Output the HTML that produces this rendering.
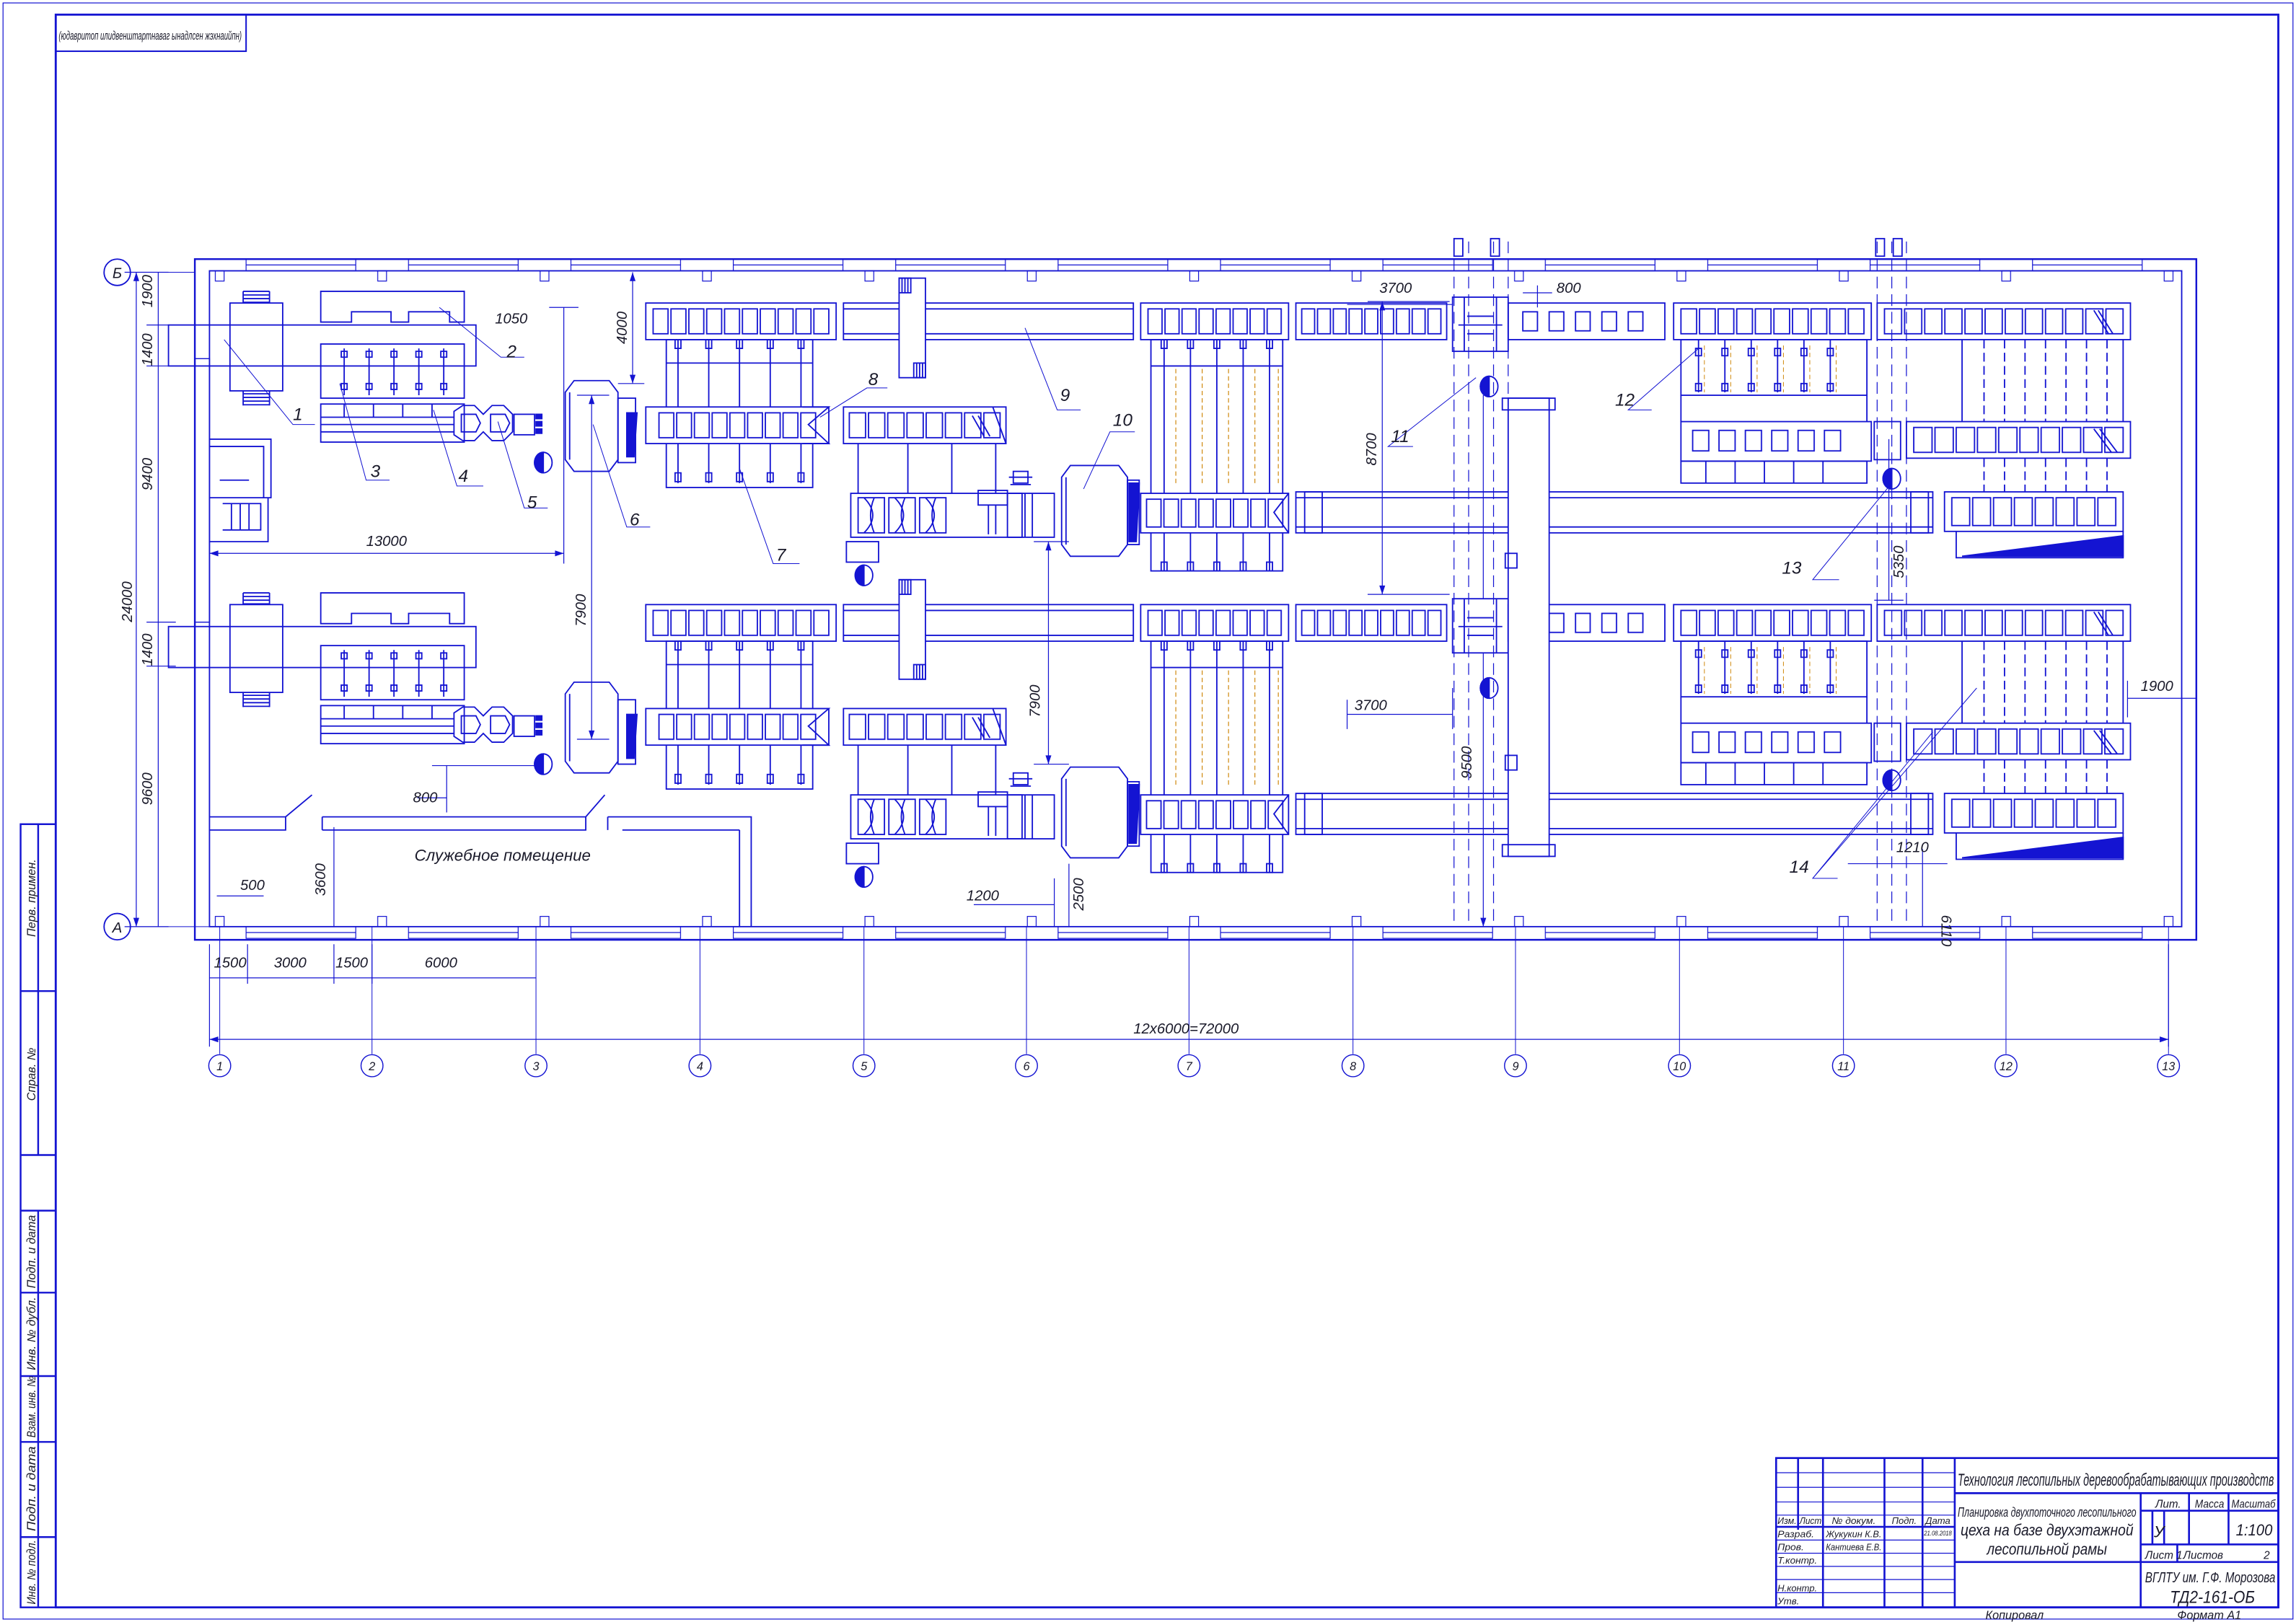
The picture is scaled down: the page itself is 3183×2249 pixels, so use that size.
<!DOCTYPE html>
<html><head><meta charset="utf-8">
<style>
html,body{margin:0;padding:0;background:#fff;}
svg{display:block;}
text{font-family:"Liberation Sans","DejaVu Sans",sans-serif;font-style:italic;fill:#1a1a2a;}
</style></head>
<body>
<svg xmlns="http://www.w3.org/2000/svg" xmlns:xlink="http://www.w3.org/1999/xlink" width="3183" height="2249" viewBox="0 0 1568 1108">
<defs>
<pattern id="pw" patternUnits="userSpaceOnUse" x="150" y="0" width="110.92" height="1108"><g fill="none" stroke="#1414d2" stroke-width="0.6"><rect x="18" y="177" width="74.9" height="8"/><line x1="18" y1="181" x2="92.9" y2="181"/><rect x="18" y="633" width="74.9" height="8"/><line x1="18" y1="637" x2="92.9" y2="637"/><rect x="-3" y="185" width="6" height="7"/><rect x="107.92" y="185" width="6" height="7"/><rect x="-3" y="626" width="6" height="7"/><rect x="107.92" y="626" width="6" height="7"/></g></pattern>
<pattern id="p1" patternUnits="userSpaceOnUse" x="445" y="207" width="12.2" height="25"><rect x="1" y="4" width="10.2" height="17" fill="none" stroke="#1414d2" stroke-width="0.9"/></pattern>
<pattern id="p2" patternUnits="userSpaceOnUse" x="449" y="278" width="12.11" height="25"><rect x="1" y="4" width="10.1" height="17" fill="none" stroke="#1414d2" stroke-width="0.9"/></pattern>
<pattern id="p3" patternUnits="userSpaceOnUse" x="579" y="278" width="13.125" height="25"><rect x="1" y="4" width="11.1" height="17" fill="none" stroke="#1414d2" stroke-width="0.9"/></pattern>
<pattern id="p4" patternUnits="userSpaceOnUse" x="783" y="207" width="11.625" height="25"><rect x="1" y="4" width="9.6" height="17" fill="none" stroke="#1414d2" stroke-width="0.9"/></pattern>
<pattern id="p5" patternUnits="userSpaceOnUse" x="782" y="337" width="11.875" height="27"><rect x="1" y="4" width="9.9" height="19" fill="none" stroke="#1414d2" stroke-width="0.9"/></pattern>
<pattern id="p6" patternUnits="userSpaceOnUse" x="888" y="207" width="10.78" height="25"><rect x="1" y="4" width="8.8" height="17" fill="none" stroke="#1414d2" stroke-width="0.9"/></pattern>
<pattern id="p7" patternUnits="userSpaceOnUse" x="1147" y="207" width="12.7" height="25"><rect x="1" y="4" width="10.7" height="17" fill="none" stroke="#1414d2" stroke-width="0.9"/></pattern>
<pattern id="p8" patternUnits="userSpaceOnUse" x="1286" y="207" width="13.75" height="25"><rect x="1" y="4" width="11.7" height="17" fill="none" stroke="#1414d2" stroke-width="0.9"/></pattern>
<pattern id="p9" patternUnits="userSpaceOnUse" x="1306" y="288" width="14.5" height="25"><rect x="1" y="4" width="12.5" height="17" fill="none" stroke="#1414d2" stroke-width="0.9"/></pattern>
<pattern id="p10" patternUnits="userSpaceOnUse" x="1332" y="336" width="14.25" height="27"><rect x="1" y="4" width="12.2" height="19" fill="none" stroke="#1414d2" stroke-width="0.9"/></pattern>
<pattern id="p11" patternUnits="userSpaceOnUse" x="1039" y="207" width="18" height="25"><rect x="1" y="6" width="10" height="13" fill="none" stroke="#1414d2" stroke-width="0.9"/></pattern>
<pattern id="p12" patternUnits="userSpaceOnUse" x="1155" y="288" width="18" height="27"><rect x="1" y="6" width="11" height="14" fill="none" stroke="#1414d2" stroke-width="0.9"/></pattern>

<g id="streamg" fill="none" stroke="#1414d2" stroke-width="0.9">
<rect x="115" y="222" width="210" height="28"/>
<rect x="157" y="207" width="36" height="60"/>
<path d="M166,199H184M166,201.5H184M166,204H184M166,206.5H184M166,269H184M166,271.5H184M166,274H184M166,276.5H184M166,199V207M184,199V207M166,267V277M184,267V277"/>
<path d="M219,199 H317 V220 H307 V213 H279 V220 H267 V213 H240 V220 H219 Z"/>
<rect x="219" y="235" width="98" height="37"/>
<path d="M235,238V270M252,238V270M269,238V270M286,238V270M303,238V270"/>
<path d="M233,240h4v4h-4zM250,240h4v4h-4zM267,240h4v4h-4zM284,240h4v4h-4zM301,240h4v4h-4zM233,262h4v4h-4zM250,262h4v4h-4zM267,262h4v4h-4zM284,262h4v4h-4zM301,262h4v4h-4z"/>
<rect x="219" y="276" width="98" height="26"/>
<path d="M219,285H310M219,290H310M219,295H310M235,276V285M255,276V285M275,276V285M295,276V285"/>
<path d="M310,281 L316,277 H324 L330,283 L336,277 H344 L350,283 V295 L344,301 H336 L330,295 L324,301 H316 L310,297 Z"/>
<path d="M315,283 H325 L328,289 L325,295 H315 Z M335,283 H345 L348,289 L345,295 H335 Z"/>
<rect x="351" y="283" width="14" height="14"/>
<rect x="366" y="283" width="4" height="3" fill="#1414d2"/><rect x="366" y="288" width="4" height="3" fill="#1414d2"/><rect x="366" y="293" width="4" height="3" fill="#1414d2"/>
<path d="M371,309 a6,7 0 0,0 0,14 Z" fill="#1414d2"/><ellipse cx="371" cy="316" rx="6" ry="7"/>
<path d="M392,260 H416 L422,268 V314 L416,322 H392 L386,314 V268 Z"/>
<path d="M389,268 V314"/>
<rect x="422" y="272" width="12" height="44"/>
<path d="M428,282 L435,282 L433,312 L428,312 Z" fill="#1414d2"/>
<rect x="441" y="207" width="130" height="25"/><rect x="445" y="207" width="122" height="25" fill="url(#p1)" stroke="none"/>
<rect x="455" y="232" width="100" height="101"/>
<path d="M455,248H555M463,232V330M484,232V330M505,232V330M526,232V330M547,232V330"/>
<path d="M461,232h4v6h-4zM482,232h4v6h-4zM503,232h4v6h-4zM524,232h4v6h-4zM545,232h4v6h-4zM461,323h4v6h-4zM482,323h4v6h-4zM503,323h4v6h-4zM524,323h4v6h-4zM545,323h4v6h-4z"/>
<rect x="441" y="278" width="125" height="25" fill="#fff"/><rect x="449" y="278" width="109" height="25" fill="url(#p2)" stroke="none"/>
<path d="M548,278 L566,278 L552,290 L566,303 L548,303"/>
<rect x="576" y="207" width="198" height="25"/>
<path d="M576,211H774M576,228H774"/>
<rect x="614" y="190" width="18" height="68" fill="#fff"/>
<rect x="614" y="190" width="8" height="10"/><path d="M616,190V200M618,190V200M620,190V200"/>
<rect x="624" y="248" width="8" height="10"/><path d="M626,248V258M628,248V258M630,248V258"/>
<rect x="576" y="278" width="111" height="25"/><rect x="579" y="278" width="105" height="25" fill="url(#p3)" stroke="none"/>
<path d="M664,284L672,298M668,284L676,298M678,278L687,303"/>
<path d="M586,303V337M620,303V337M650,303V337M680,303V337"/>
<rect x="581" y="337" width="139" height="30"/>
<rect x="586" y="340" width="18" height="24"/><rect x="607" y="340" width="18" height="24"/><rect x="628" y="340" width="18" height="24"/>
<path d="M590,340 q12,12 0,24 M597,340 q-5,12 0,24 M611,340 q12,12 0,24 M618,340 q-5,12 0,24 M632,340 q12,12 0,24 M639,340 q-5,12 0,24"/>
<rect x="668" y="335" width="20" height="10"/>
<path d="M675,345V365M680,345V365M700,337V367M705,337V367"/>
<rect x="688" y="337" width="10" height="30"/>
<rect x="692" y="322" width="10" height="8"/><path d="M689,326H705M690,331H704"/>
<rect x="578" y="370" width="22" height="14"/>
<path d="M590,386 a6,7 0 0,0 0,14 Z" fill="#1414d2"/><ellipse cx="590" cy="393" rx="6" ry="7"/>
<path d="M731,318 H764 L770,326 V372 L764,380 H731 L725,372 V326 Z"/>
<path d="M728,326 V372"/>
<rect x="770" y="328" width="8" height="44"/>
<path d="M771,330 L778,330 L776,370 L771,370 Z" fill="#1414d2"/>
<rect x="779" y="207" width="101" height="25"/><rect x="783" y="207" width="93" height="25" fill="url(#p4)" stroke="none"/>
<rect x="786" y="232" width="90" height="158"/>
<path d="M795,232V390M813,232V390M831,232V390M849,232V390M867,232V390M786,250H876"/>
<path d="M793,232h4v6h-4zM811,232h4v6h-4zM829,232h4v6h-4zM847,232h4v6h-4zM865,232h4v6h-4zM793,384h4v6h-4zM811,384h4v6h-4zM829,384h4v6h-4zM847,384h4v6h-4zM865,384h4v6h-4z"/>
<path d="M803,252V332M821,252V332M839,252V332M857,252V332M873,252V332" stroke="#d08a10" stroke-dasharray="3,2" stroke-width="0.6"/>
<rect x="779" y="337" width="101" height="27" fill="#fff"/><rect x="782" y="337" width="95" height="27" fill="url(#p5)" stroke="none"/>
<path d="M880,337 L870,350 L880,364"/>
<rect x="885" y="207" width="103" height="25"/><rect x="888" y="207" width="97" height="25" fill="url(#p6)" stroke="none"/>
<rect x="992" y="203" width="38" height="37" fill="#fff"/>
<path d="M1000,203V240M1022,203V240M996,222H1026M1002,216H1020M1002,228H1020"/>
<rect x="1030" y="207" width="107" height="25"/><rect x="1039" y="207" width="90" height="25" fill="url(#p11)" stroke="none"/>
<path d="M1017,257 a6,7 0 0,0 0,14 Z" fill="#1414d2"/><ellipse cx="1017" cy="264" rx="6" ry="7"/>
<rect x="885" y="336" width="435" height="28"/>
<path d="M885,340H1320M885,360H1320"/>
<rect x="891" y="336" width="12" height="28"/><rect x="1305" y="336" width="12" height="28"/>
<rect x="1143" y="207" width="135" height="25"/><rect x="1147" y="207" width="127" height="25" fill="url(#p7)" stroke="none"/>
<rect x="1148" y="232" width="127" height="38"/>
<path d="M1160,232V268M1178,232V268M1196,232V268M1214,232V268M1232,232V268M1250,232V268M1148,270V288M1275,270V288"/>
<path d="M1158,238h4v5h-4zM1176,238h4v5h-4zM1194,238h4v5h-4zM1212,238h4v5h-4zM1230,238h4v5h-4zM1248,238h4v5h-4zM1158,262h4v5h-4zM1176,262h4v5h-4zM1194,262h4v5h-4zM1212,262h4v5h-4zM1230,262h4v5h-4zM1248,262h4v5h-4z"/>
<path d="M1164,236V268M1182,236V268M1200,236V268M1218,236V268M1236,236V268M1254,236V268" stroke="#d08a10" stroke-dasharray="3,2" stroke-width="0.5"/>
<rect x="1148" y="288" width="130" height="27"/><rect x="1155" y="288" width="108" height="27" fill="url(#p12)" stroke="none"/>
<rect x="1148" y="315" width="127" height="15"/>
<path d="M1165,315V330M1185,315V330M1205,315V330M1225,315V330M1245,315V330"/>
<rect x="1282" y="207" width="173" height="25"/><rect x="1286" y="207" width="165" height="25" fill="url(#p8)" stroke="none"/>
<path d="M1430,212L1440,228M1433,212L1443,228"/>
<path d="M1355,232V336M1369,232V336M1383,232V336M1397,232V336M1411,232V336M1425,232V336M1439,232V336" stroke-dasharray="6,3"/>
<path d="M1340,232V288M1450,232V288"/>
<rect x="1302" y="288" width="153" height="25" fill="#fff"/><rect x="1306" y="288" width="145" height="25" fill="url(#p9)" stroke="none"/>
<path d="M1430,293L1442,309M1434,293L1446,309"/>
<rect x="1328" y="336" width="122" height="27" fill="#fff"/><rect x="1332" y="336" width="114" height="27" fill="url(#p10)" stroke="none"/>
<path d="M1336,363 V381 H1450 V363"/>
<path d="M1340,380 L1450,366 L1450,380 Z" fill="#1414d2"/>
<rect x="1280" y="288" width="18" height="26"/>
<path d="M1292,320 a6,7 0 0,0 0,14 Z" fill="#1414d2"/><ellipse cx="1292" cy="327" rx="6" ry="7"/>
</g>
</defs>

<g fill="none" stroke="#1414d2" stroke-width="0.9">
<rect x="2" y="2" width="1564" height="1104" stroke-width="0.6"/>
<rect x="38" y="10" width="1518" height="1088" stroke-width="1.4"/>
<rect x="38" y="10" width="130" height="25" stroke-width="1"/>
<rect x="14" y="563" width="24" height="535" stroke-width="1.2"/>
<path d="M14,677H38M14,789H38M14,827H38M14,883H38M14,940H38M14,985H38M14,1050H38M26,563V789M26,827V1098" stroke-width="1.2"/>
<rect x="133" y="177" width="1367" height="465" stroke-width="1.2"/>
<rect x="143" y="185" width="1347" height="448"/>
<rect x="140" y="170" width="1350" height="480" fill="url(#pw)" stroke="none"/>
<path d="M150,633V720M254,633V720M366,633V720M478,633V720M590,633V720M701,633V720M812,633V720M924,633V720M1035,633V720M1147,633V720M1259,633V720M1370,633V720M1481,633V720" stroke-width="0.5"/>
<g stroke-width="0.7">
<circle cx="150" cy="728" r="7.5"/><circle cx="254" cy="728" r="7.5"/><circle cx="366" cy="728" r="7.5"/><circle cx="478" cy="728" r="7.5"/><circle cx="590" cy="728" r="7.5"/><circle cx="701" cy="728" r="7.5"/><circle cx="812" cy="728" r="7.5"/><circle cx="924" cy="728" r="7.5"/><circle cx="1035" cy="728" r="7.5"/><circle cx="1147" cy="728" r="7.5"/><circle cx="1259" cy="728" r="7.5"/><circle cx="1370" cy="728" r="7.5"/><circle cx="1481" cy="728" r="7.5"/>
</g>
<circle cx="80" cy="186" r="9"/><circle cx="80" cy="633" r="9"/>
<path d="M89,186H133M89,633H150" stroke-width="0.5"/>
<g stroke-width="0.6">
<path d="M143,710H1481M143,668H366M143,645V715M1481,645V715M169,645V672M228,645V672M254,645V672"/>
<path d="M93,186V633M108,186V633M85,186H115M100,222H120M100,250H120M100,425H120M100,455H120M85,633H115"/>
<path d="M143,378H385M385,210V385M375,210H395"/>
<path d="M404,270V505M394,270H416M394,505H416"/>
<path d="M432,186V262M422,262H440"/>
<path d="M716,370V522M706,370H730M706,522H730"/>
<path d="M944,206V406M934,206H990M934,406H990"/>
<path d="M1013,270V633"/>
<path d="M920,488H992M920,478V498M992,470V498"/>
<path d="M920,208H992M1040,200H1060M1050,195V210"/>
<path d="M1290,300V410M1280,410H1300"/>
<path d="M1313,580V633M1262,590H1330"/>
<path d="M1453,477H1500M1453,465V490"/>
<path d="M228,565V633M305,523V555M295,523H370M285,545H305"/>
<path d="M730,590V633M665,618H720M720,600V633"/>
<path d="M148,612H180"/>
</g>
<g fill="#1414d2" stroke="none">
<path d="M143,378l6,-2v4zM385,378l-6,-2v4zM404,270l-2,6h4zM404,505l-2,-6h4zM716,370l-2,6h4zM716,522l-2,-6h4zM93,186l-2,6h4zM93,633l-2,-6h4zM143,710l6,-2v4zM1481,710l-6,-2v4zM944,206l-2,6h4zM944,406l-2,-6h4zM1013,633l-2,-6h4zM432,262l-2,-6h4zM432,186l-2,6h4z"/>
</g>
<rect x="133" y="245" width="10" height="180" stroke-width="0.7"/>
<path d="M143,300 H185 V340 H180 V305 H143 M150,328 H170 M143,340 H183 V370 H143 M152,344 H178 V362 H152 M158,344V362M164,344V362M170,344V362"/>
<path d="M143,558 H195 L213,543 M220,558 H400 L413,543 M415,558 H513 V633 M505,567 V633 M143,567 H195 V558 M220,567 H400 V558 M220,558 V567 M415,558 V567 M425,567 H505"/>
<use xlink:href="#streamg" href="#streamg"/>
<use xlink:href="#streamg" href="#streamg" y="206"/>
<rect x="1030" y="272" width="28" height="313" fill="#fff"/>
<rect x="1026" y="272" width="36" height="8"/><rect x="1026" y="577" width="36" height="8"/>
<rect x="1028" y="378" width="8" height="10"/><rect x="1028" y="516" width="8" height="10"/>
<path d="M993,165V630M1003,165V630M1020,165V630M1030,165V272M1282,165V630M1292,165V630M1302,165V630" stroke-dasharray="8,4" stroke-width="0.6"/>
<rect x="993" y="163" width="6" height="12"/><rect x="1018" y="163" width="6" height="12"/><rect x="1281" y="163" width="6" height="12"/><rect x="1293" y="163" width="6" height="12"/>
<path stroke-width="0.5" d="M153,232L200,290H215M300,210L342,244H358M232,262L250,328H266M296,280L312,332H330M340,288L358,347H374M405,290L428,360H444M505,320L528,385H546M560,285L592,265H606M700,224L722,280H738M740,334L758,295H775M1008,258L948,305H965M1160,238L1112,280H1128M1292,330L1238,396H1256M1350,470L1238,600H1255M1320,500L1238,600"/>
<g stroke-width="1.3">
<rect x="1213" y="996" width="343" height="102"/>
<path d="M1335,996V1098M1335,1020H1556M1335,1067H1556M1462,1020V1098M1462,1032H1556M1462,1055H1556M1495,1020V1055M1522,1020V1055M1487,1055V1067M1228,996V1045M1245,996V1098M1287,996V1098M1313,996V1098M1213,1043H1335M1470,1032V1055M1478,1032V1055"/>
</g>
<path stroke-width="0.6" d="M1213,1006H1335M1213,1016H1335M1213,1026H1335M1213,1035H1335M1213,1052H1335M1213,1061H1335M1213,1070H1335M1213,1079H1335M1213,1088H1335"/>
</g>

<g font-size="12">
<text x="200" y="287">1</text><text x="346" y="244">2</text><text x="253" y="326">3</text>
<text x="313" y="329">4</text><text x="360" y="347">5</text><text x="430" y="359">6</text>
<text x="530" y="383">7</text><text x="593" y="263">8</text><text x="724" y="274">9</text>
<text x="760" y="291">10</text><text x="950" y="302">11</text><text x="1103" y="277">12</text>
<text x="1217" y="392">13</text><text x="1222" y="596">14</text>
</g>
<text x="40" y="27" font-size="8" textLength="125" lengthAdjust="spacingAndGlyphs">(юдавритоп илидвенштартнаваг ынадлсен жэхнаийпн)</text>
<g font-size="10">
<text x="338" y="221">1050</text><text x="250" y="373">13000</text>
<text x="282" y="548">800</text><text x="164" y="608">500</text>
<text x="660" y="615">1200</text><text x="942" y="200">3700</text>
<text x="1063" y="200">800</text><text x="925" y="485">3700</text>
<text x="1462" y="472">1900</text><text x="1295" y="582">1210</text>
<text x="146" y="661">1500</text><text x="187" y="661">3000</text><text x="229" y="661">1500</text><text x="290" y="661">6000</text>
<text x="774" y="706">12x6000=72000</text>
<text x="283" y="588" font-size="11">Служебное помещение</text>
<text transform="translate(104,210) rotate(-90)">1900</text>
<text transform="translate(104,250) rotate(-90)">1400</text>
<text transform="translate(104,335) rotate(-90)">9400</text>
<text transform="translate(90,425) rotate(-90)">24000</text>
<text transform="translate(104,455) rotate(-90)">1400</text>
<text transform="translate(104,550) rotate(-90)">9600</text>
<text transform="translate(428,235) rotate(-90)">4000</text>
<text transform="translate(400,428) rotate(-90)">7900</text>
<text transform="translate(710,490) rotate(-90)">7900</text>
<text transform="translate(940,318) rotate(-90)">8700</text>
<text transform="translate(1005,532) rotate(-90)">9500</text>
<text transform="translate(1300,395) rotate(-90)">5350</text>
<text transform="translate(1326,625) rotate(90)">6110</text>
<text transform="translate(222,612) rotate(-90)">3600</text>
<text transform="translate(740,622) rotate(-90)">2500</text>
</g>
<g font-size="8" font-style="normal" text-anchor="middle">
<text x="150" y="731">1</text><text x="254" y="731">2</text><text x="366" y="731">3</text><text x="478" y="731">4</text><text x="590" y="731">5</text><text x="701" y="731">6</text><text x="812" y="731">7</text><text x="924" y="731">8</text><text x="1035" y="731">9</text><text x="1147" y="731">10</text><text x="1259" y="731">11</text><text x="1370" y="731">12</text><text x="1481" y="731">13</text>
<text x="80" y="190" font-size="10">Б</text><text x="80" y="637" font-size="10">А</text>
</g>
<g font-size="8">
<text transform="translate(24,640) rotate(-90)">Перв. примен.</text>
<text transform="translate(24,752) rotate(-90)">Справ. №</text>
<text transform="translate(24,880) rotate(-90)" textLength="50" lengthAdjust="spacingAndGlyphs">Подп. и дата</text>
<text transform="translate(24,936) rotate(-90)" textLength="50" lengthAdjust="spacingAndGlyphs">Инв. № дубл.</text>
<text transform="translate(24,982) rotate(-90)" textLength="42" lengthAdjust="spacingAndGlyphs">Взам. инв. №</text>
<text transform="translate(24,1046) rotate(-90)" textLength="58" lengthAdjust="spacingAndGlyphs">Подп. и дата</text>
<text transform="translate(24,1096) rotate(-90)" textLength="44" lengthAdjust="spacingAndGlyphs">Инв. № подл.</text>
</g>
<g font-size="6.5">
<text x="1214" y="1041" textLength="13" lengthAdjust="spacingAndGlyphs">Изм.</text><text x="1229" y="1041" textLength="15" lengthAdjust="spacingAndGlyphs">Лист</text><text x="1251" y="1041" textLength="30" lengthAdjust="spacingAndGlyphs">№ докум.</text><text x="1292" y="1041" textLength="17" lengthAdjust="spacingAndGlyphs">Подп.</text><text x="1315" y="1041" textLength="17" lengthAdjust="spacingAndGlyphs">Дата</text>
<text x="1214" y="1050" textLength="25" lengthAdjust="spacingAndGlyphs">Разраб.</text><text x="1247" y="1050" textLength="38" lengthAdjust="spacingAndGlyphs">Жукукин К.В.</text><text x="1314" y="1049" font-size="4.5" textLength="19" lengthAdjust="spacingAndGlyphs">21.08.2018</text>
<text x="1214" y="1059" textLength="18" lengthAdjust="spacingAndGlyphs">Пров.</text><text x="1247" y="1059" textLength="38" lengthAdjust="spacingAndGlyphs">Кантиева Е.В.</text>
<text x="1214" y="1068" textLength="27" lengthAdjust="spacingAndGlyphs">Т.контр.</text>
<text x="1214" y="1087" textLength="27" lengthAdjust="spacingAndGlyphs">Н.контр.</text><text x="1214" y="1096">Утв.</text>
</g>
<text x="1337" y="1015" font-size="12" textLength="216" lengthAdjust="spacingAndGlyphs">Технология лесопильных деревообрабатывающих производств</text>
<text x="1337" y="1036" font-size="9" textLength="122" lengthAdjust="spacingAndGlyphs">Планировка двухпоточного лесопильного</text>
<text x="1339" y="1049" font-size="11" textLength="118" lengthAdjust="spacingAndGlyphs">цеха на базе двухэтажной</text>
<text x="1357" y="1062" font-size="11" textLength="82" lengthAdjust="spacingAndGlyphs">лесопильной рамы</text>
<text x="1472" y="1030" font-size="7.5">Лит.</text><text x="1499" y="1030" font-size="7.5" textLength="20" lengthAdjust="spacingAndGlyphs">Масса</text><text x="1524" y="1030" font-size="7.5" textLength="30" lengthAdjust="spacingAndGlyphs">Масштаб</text>
<text x="1471" y="1050" font-size="11">У</text><text x="1527" y="1049" font-size="11" textLength="25" lengthAdjust="spacingAndGlyphs">1:100</text>
<text x="1465" y="1065" font-size="7.5">Лист  1</text>
<text x="1491" y="1065" font-size="7.5">Листов</text><text x="1546" y="1065" font-size="7.5">2</text>
<text x="1465" y="1081" font-size="10" textLength="89" lengthAdjust="spacingAndGlyphs">ВГЛТУ им. Г.Ф. Морозова</text>
<text x="1482" y="1095" font-size="12" textLength="58" lengthAdjust="spacingAndGlyphs">ТД2-161-ОБ</text>
<text x="1356" y="1106" font-size="8">Копировал</text><text x="1487" y="1106" font-size="8">Формат   A1</text>
</svg>
</body></html>
